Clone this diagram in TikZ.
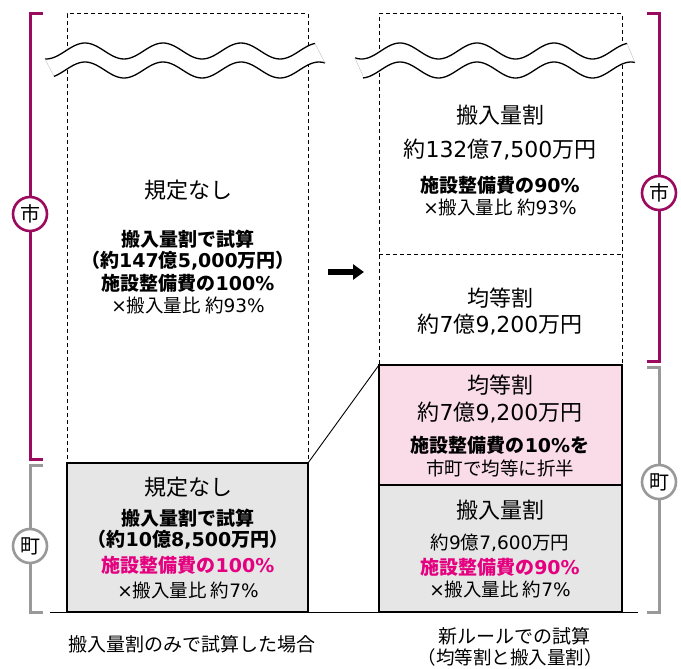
\documentclass[tikz,border=0pt]{standalone}
\usepackage{fontspec}
\setmainfont{Noto Sans CJK JP}
\newfontfamily\latf{DejaVu Sans}
\newcommand\numf[1]{{\latf #1}}
\usetikzlibrary{arrows.meta}
\definecolor{cityc}{HTML}{9B0A5E}
\definecolor{townc}{HTML}{999999}
\definecolor{hot}{HTML}{E4007F}
\definecolor{greyfill}{HTML}{E6E6E6}
\definecolor{pinkfill}{HTML}{FADCE8}
\begin{document}
\begin{tikzpicture}[x=1pt,y=-1pt,
  dashbox/.style={draw, dash pattern=on 4pt off 3pt, line width=1pt, anchor=north west, inner sep=0, outer sep=0},
  solidbox/.style={draw, line width=2.6pt, anchor=north west, inner sep=0, outer sep=0},
  big/.style={font=\fontsize{22}{26}\selectfont, inner sep=0},
  mid/.style={font=\fontsize{18.5}{22}\selectfont, inner sep=0},
  midb/.style={font=\fontsize{19}{22}\selectfont\bfseries, inner sep=0},
  captxt/.style={font=\fontsize{19}{22}\selectfont, inner sep=0},
  badge/.style={circle, draw, fill=white, line width=2.6pt, minimum size=34pt, inner sep=0, font=\fontsize{20}{22}\selectfont},
  bracket/.style={line width=3pt},
  wave/.style={line width=1.3pt},
]
\useasboundingbox (0,0) rectangle (681,669);

% ground line
\coordinate (g0) at (50,612);
\coordinate (g1) at (638,612);
\draw[line width=0.8pt] (g0) -- (g1);

% dashed boxes
\node[dashbox, minimum width=241pt, minimum height=449pt] (ltop) at (67,14) {};
\node[dashbox, minimum width=243pt, minimum height=351pt] (rtop) at (379,14) {};
\coordinate (d0) at (379,254);
\coordinate (d1) at (622,254);
\draw[dash pattern=on 4pt off 3pt, line width=1pt] (d0) -- (d1);

% wavy breaks
\fill[white] plot[domain=45:315,samples=100] (\x,{51-8*cos((\x-85)*4.6154)}) -- plot[domain=325:54,samples=100] (\x,{70-8*cos((\x-85)*4.6154)}) -- cycle;
\draw[wave] plot[domain=45:315,samples=100] (\x,{51-8*cos((\x-85)*4.6154)});
\draw[wave] plot[domain=54:325,samples=100] (\x,{70-8*cos((\x-85)*4.6154)});
\draw[gray!50, line width=0.4pt] (45,59) -- (54,76.4) (315,43.4) -- (325,62.9);

\fill[white] plot[domain=355:627,samples=100] (\x,{51-8*cos((\x-400)*4.6753)}) -- plot[domain=635:363,samples=100] (\x,{70-8*cos((\x-400)*4.6753)}) -- cycle;
\draw[wave] plot[domain=355:627,samples=100] (\x,{51-8*cos((\x-400)*4.6753)});
\draw[wave] plot[domain=363:635,samples=100] (\x,{70-8*cos((\x-400)*4.6753)});
\draw[gray!50, line width=0.4pt] (355,58) -- (363,76) (627,43.4) -- (635,62.5);

% solid boxes
\node[solidbox, fill=greyfill, minimum width=241pt, minimum height=149pt] (lbox) at (67,463) {};
\node[solidbox, fill=pinkfill, minimum width=243pt, minimum height=120pt] (pbox) at (379,365) {};
\node[solidbox, fill=greyfill, minimum width=243pt, minimum height=127pt] (rbox) at (379,485) {};

% diagonal connector
\draw[line width=0.9pt] (lbox.north east) -- (pbox.north west);

% arrow
\coordinate (a1) at (328,272);
\coordinate (a2) at (364,272);
\draw[line width=5.5pt, -{Triangle[length=11pt,width=15pt]}] (a1) -- (a2);

% brackets
\draw[bracket, cityc] (43,14) -- (30,14) -- (30,459) -- (43,459);
\draw[bracket, townc] (43,465) -- (30,465) -- (30,612) -- (43,612);
\draw[bracket, cityc] (647,14) -- (659,14) -- (659,361) -- (647,361);
\draw[bracket, townc] (647,367) -- (659,367) -- (659,612) -- (647,612);

\node[badge, draw=cityc] (lcity) at (30,214) {市};
\node[badge, draw=townc] (ltown) at (30,546) {町};
\node[badge, draw=cityc] (rcity) at (659,193) {市};
\node[badge, draw=townc] (rtown) at (659,482) {町};

% left top text
\node[big] (lt1) at (188,190) {規定なし};
\node[midb] (lt2) at (188,239) {搬入量割で試算};
\node[midb] (lt3) at (188,261) {（約\numf{147}億\numf{5,000}万円）};
\node[midb] (lt4) at (188,283) {施設整備費の\numf{100\%}};
\node[mid] (lt5) at (188,305) {\numf{×}搬入量比 約\numf{93\%}};

% right top text
\node[big] (rt1) at (500,115) {搬入量割};
\node[big] (rt2) at (500,150) {約\numf{132}億\numf{7,500}万円};
\node[midb] (rt3) at (500,185) {施設整備費の\numf{90\%}};
\node[mid] (rt4) at (500,207) {\numf{×}搬入量比 約\numf{93\%}};
\node[big] (rt5) at (500,298) {均等割};
\node[big] (rt6) at (500,325) {約\numf{7}億\numf{9,200}万円};

% pink box text
\node[big] (p1) at (500,385) {均等割};
\node[big] (p2) at (500,413) {約\numf{7}億\numf{9,200}万円};
\node[midb] (p3) at (500,445) {施設整備費の\numf{10\%}を};
\node[mid] (p4) at (500,468) {市町で均等に折半};

% right grey box text
\node[big] (g1t) at (500,510) {搬入量割};
\node[mid] (g2t) at (500,543) {約\numf{9}億\numf{7,600}万円};
\node[midb, text=hot] (g3t) at (500,567) {施設整備費の\numf{90\%}};
\node[mid] (g4t) at (500,589) {\numf{×}搬入量比 約\numf{7\%}};

% left grey box text
\node[big] (lg1) at (188,487) {規定なし};
\node[midb] (lg2) at (188,518) {搬入量割で試算};
\node[midb] (lg3) at (188,540) {（約\numf{10}億\numf{8,500}万円）};
\node[midb, text=hot] (lg4) at (188,565) {施設整備費の\numf{100\%}};
\node[mid] (lg5) at (188,590) {\numf{×}搬入量比 約\numf{7\%}};

% captions
\node[captxt] (c1) at (192,644) {搬入量割のみで試算した場合};
\node[captxt] (c2) at (514,636) {新ルールでの試算};
\node[captxt, font=\fontsize{18.5}{22}\selectfont] (c3) at (510,657) {（均等割と搬入量割）};
\end{tikzpicture}
\end{document}
